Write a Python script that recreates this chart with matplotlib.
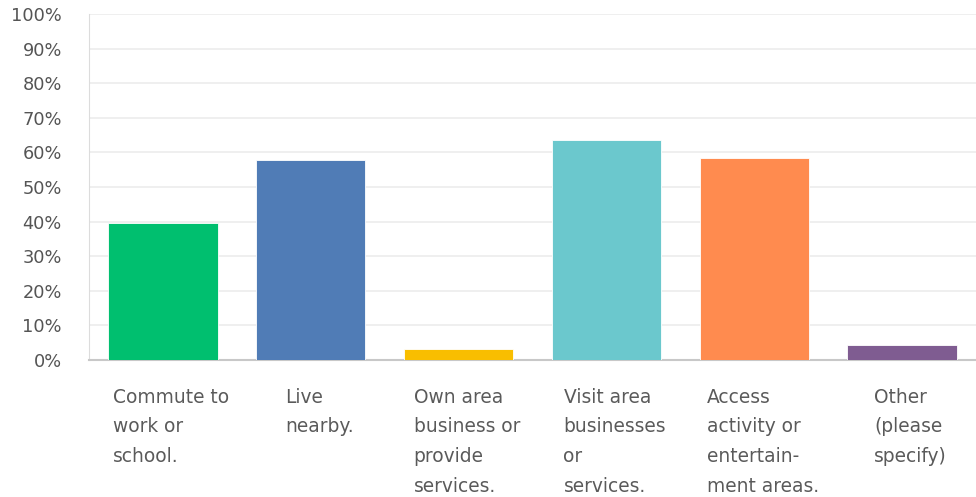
import matplotlib
matplotlib.use("Agg")
import matplotlib.pyplot as plt
from matplotlib.ticker import FuncFormatter

categories = [
    "Commute to\nwork or\nschool.",
    "Live\nnearby.",
    "Own area\nbusiness or\nprovide\nservices.",
    "Visit area\nbusinesses\nor\nservices.",
    "Access\nactivity or\nentertain-\nment areas.",
    "Other\n(please\nspecify)",
]
values = [39.5, 57.9, 3.3, 63.6, 58.4, 4.2]
colors = ["#00bf6f", "#507cb6", "#f9be00", "#6bc8cd", "#ff8b4f", "#7f5c91"]
y_ticks = list(range(0, 101, 10))

plt.rcParams["font.family"] = ["DejaVu Sans"]

fig = plt.figure(figsize=(9.76, 4.97), dpi=100)
ax = fig.add_axes([89 / 976, 1 - 360 / 497, 1 - 89 / 976, (360 - 14) / 497])

x = list(range(len(categories)))
ax.bar(x, values, width=0.74, color=colors, edgecolor="white", linewidth=0.6, zorder=3)

ax.set_xlim(-0.5, len(categories) - 0.5)
ax.set_ylim(0, 100)
ax.set_yticks(y_ticks)
ax.yaxis.set_major_formatter(FuncFormatter(lambda v, p: f"{int(v)}%"))
ax.grid(axis="y", color="#ececec", linewidth=1.2, zorder=0)
ax.tick_params(axis="y", length=0, pad=19.5, labelsize=12.8, labelcolor="#555555")
ax.tick_params(axis="x", length=0, labelbottom=False)

for side in ("top", "right"):
    ax.spines[side].set_visible(False)
ax.spines["left"].set_color("#dcdcdc")
ax.spines["bottom"].set_color("#c8c8c8")
ax.spines["bottom"].set_linewidth(1.5)

for xi, label in zip(x, categories):
    ax.annotate(label, xy=(xi, 0), xycoords=("data", "axes fraction"),
                xytext=(6, -20), textcoords="offset points",
                ha="center", va="top", multialignment="left",
                fontsize=13.4, color="#5a5a5a", linespacing=1.71)

fig.savefig("out.png", dpi=100)
